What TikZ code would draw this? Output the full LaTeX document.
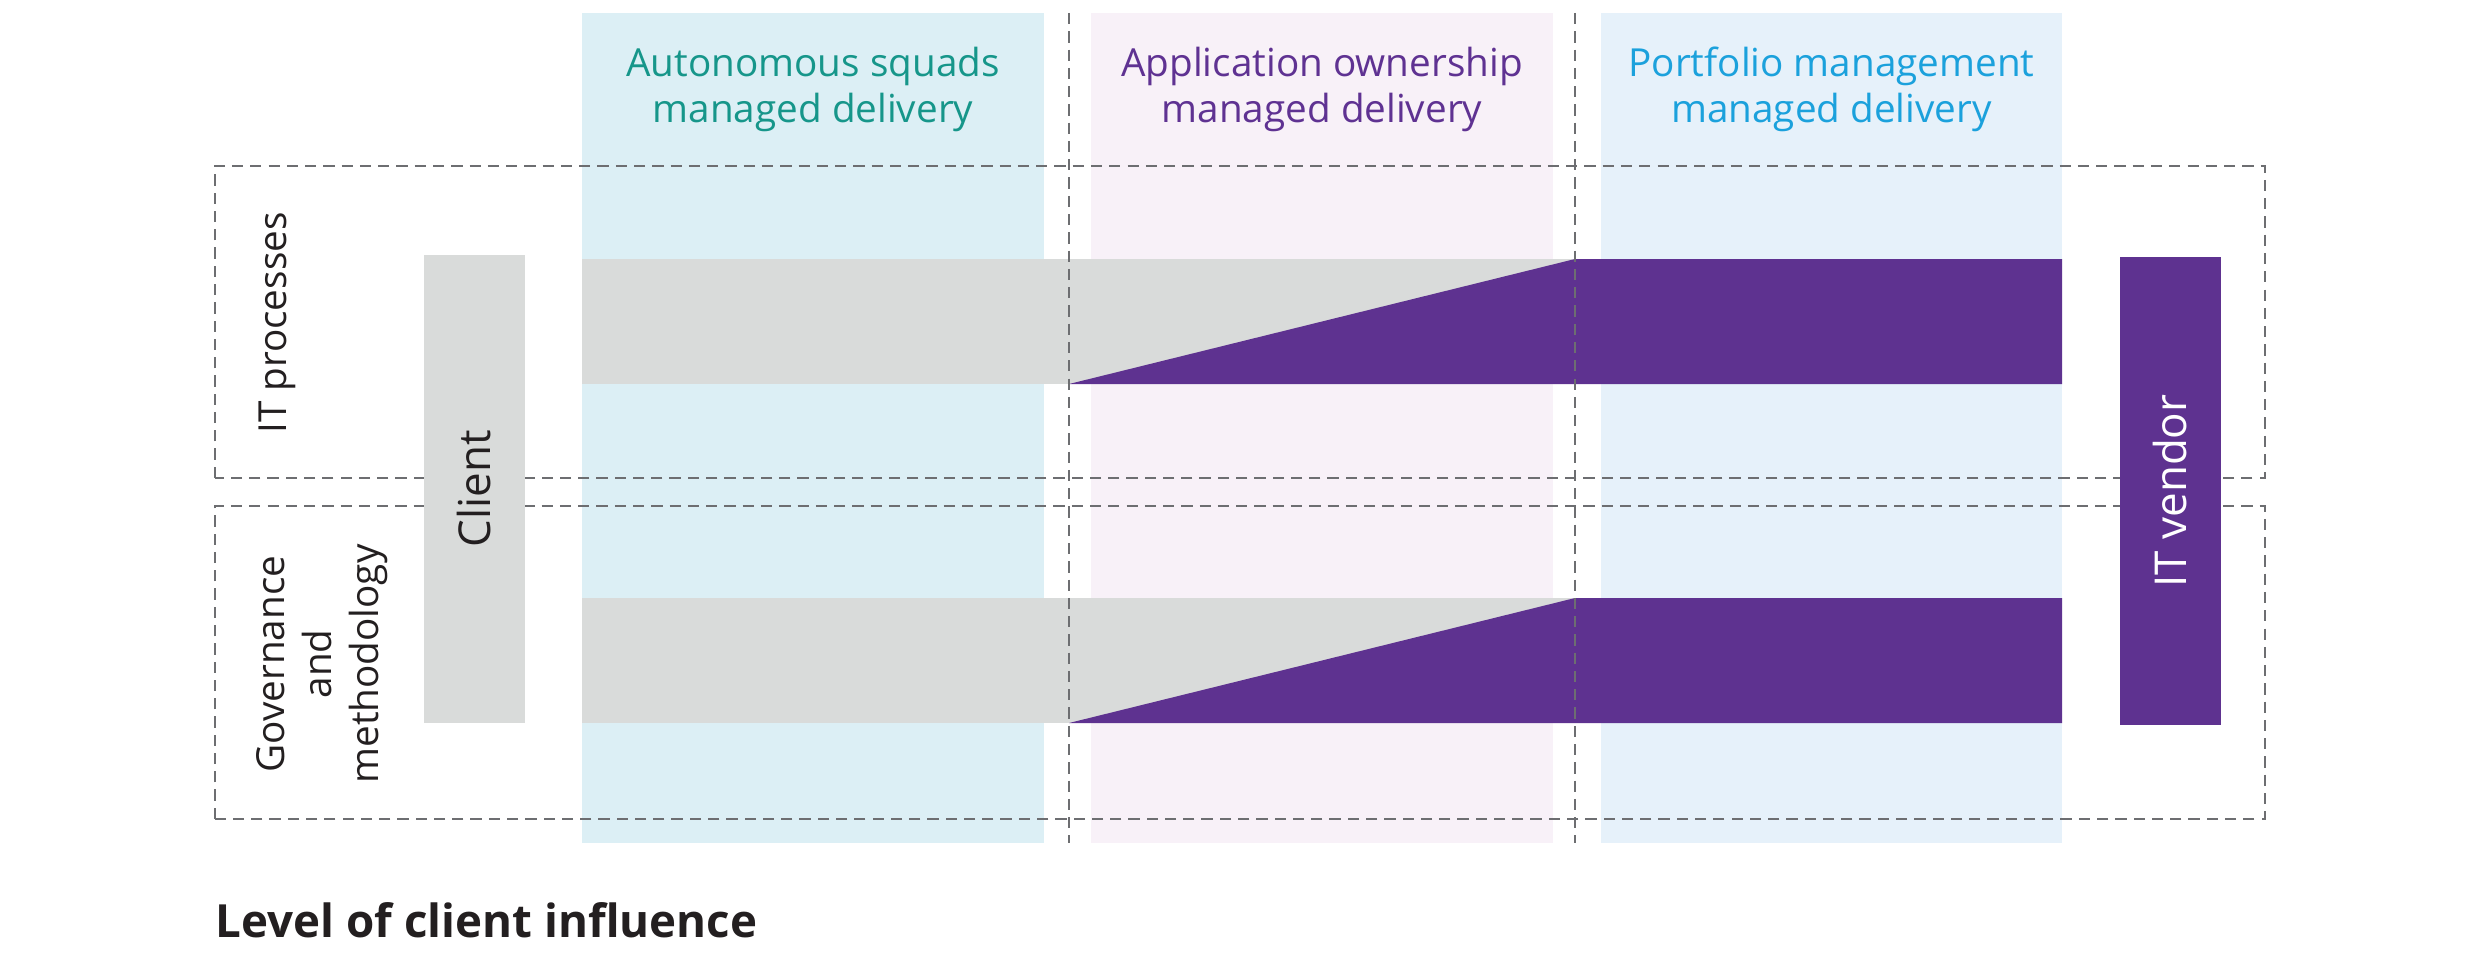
\documentclass[tikz,border=0pt]{standalone}
\usepackage{fontspec}
\setmainfont{Open Sans}
\usetikzlibrary{positioning}

\definecolor{squadbg}{HTML}{DCEFF5}
\definecolor{ownerbg}{HTML}{F8F1F8}
\definecolor{portfbg}{HTML}{E6F1FA}
\definecolor{squadtxt}{HTML}{16968A}
\definecolor{ownertxt}{HTML}{5F3292}
\definecolor{portftxt}{HTML}{1BA1DC}
\definecolor{barGray}{HTML}{D9DBDA}
\definecolor{vendorPurple}{HTML}{5E3290}
\definecolor{dashGray}{HTML}{6D6E71}
\definecolor{inkBlack}{HTML}{231F20}

\tikzset{
  dashline/.style={draw=dashGray, line width=0.75pt, dash pattern=on 3.2pt off 2pt},
  coltitle/.style={align=center, inner sep=0pt, font=\fontsize{11pt}{13.1pt}\selectfont},
  rowlabel/.style={rotate=90, align=center, inner sep=0pt, text=inkBlack,
    font=\fontsize{11pt}{13.4pt}\selectfont},
  sidebox/.style={rotate=90, minimum width=4.68cm, minimum height=1.01cm,
    inner sep=0pt, font=\fontsize{12.5pt}{15pt}\selectfont}
}

\begin{document}
\begin{tikzpicture}
\useasboundingbox (0,0) rectangle (24.8,9.66);

% delivery model columns
\fill[squadbg] (5.82,1.23) rectangle (10.44,9.53);
\fill[ownerbg] (10.91,1.23) rectangle (15.53,9.53);
\fill[portfbg] (16.01,1.23) rectangle (20.62,9.53);

\node[coltitle, text=squadtxt] (squads) at (8.13,8.77) {Autonomous squads\\managed delivery};
\node[coltitle, text=ownertxt] (owner) at (13.22,8.77) {Application ownership\\managed delivery};
\node[coltitle, text=portftxt] (portf) at (18.315,8.77) {Portfolio management\\managed delivery};

% dashed row frames
\draw[dashline] (2.15,4.88) rectangle (22.65,8.00);
\draw[dashline] (2.15,1.47) rectangle (22.65,4.60);

\node[rowlabel] (itproc) at (2.77,6.43) {IT processes};
\node[rowlabel] (gov) at (3.22,3.02) {Governance\\and\\methodology};

% influence bars
\foreach \lo/\hi in {5.82/7.07, 2.43/3.68} {
  \fill[barGray] (5.82,\lo) rectangle (20.62,\hi);
  \fill[vendorPurple] (10.69,\lo) -- (15.75,\hi) -- (20.62,\hi) -- (20.62,\lo) -- cycle;
}

% column borders
\coordinate (splitA top) at (10.69,9.53);
\coordinate (splitA bot) at (10.69,1.23);
\coordinate (splitB top) at (15.75,9.53);
\coordinate (splitB bot) at (15.75,1.23);
\draw[dashline] (splitA top) -- (splitA bot);
\draw[dashline] (splitB top) -- (splitB bot);

% parties
\node[sidebox, fill=barGray, text=inkBlack] (client) at (4.745,4.77) {Client};
\node[sidebox, fill=vendorPurple, text=white] (vendor) at (21.70,4.75) {IT vendor};

\node[anchor=west, inner sep=0pt, text=inkBlack,
  font=\bfseries\fontsize{13pt}{15pt}\selectfont] (level) at (2.15,0.46) {Level of client influence};
\end{tikzpicture}
\end{document}
